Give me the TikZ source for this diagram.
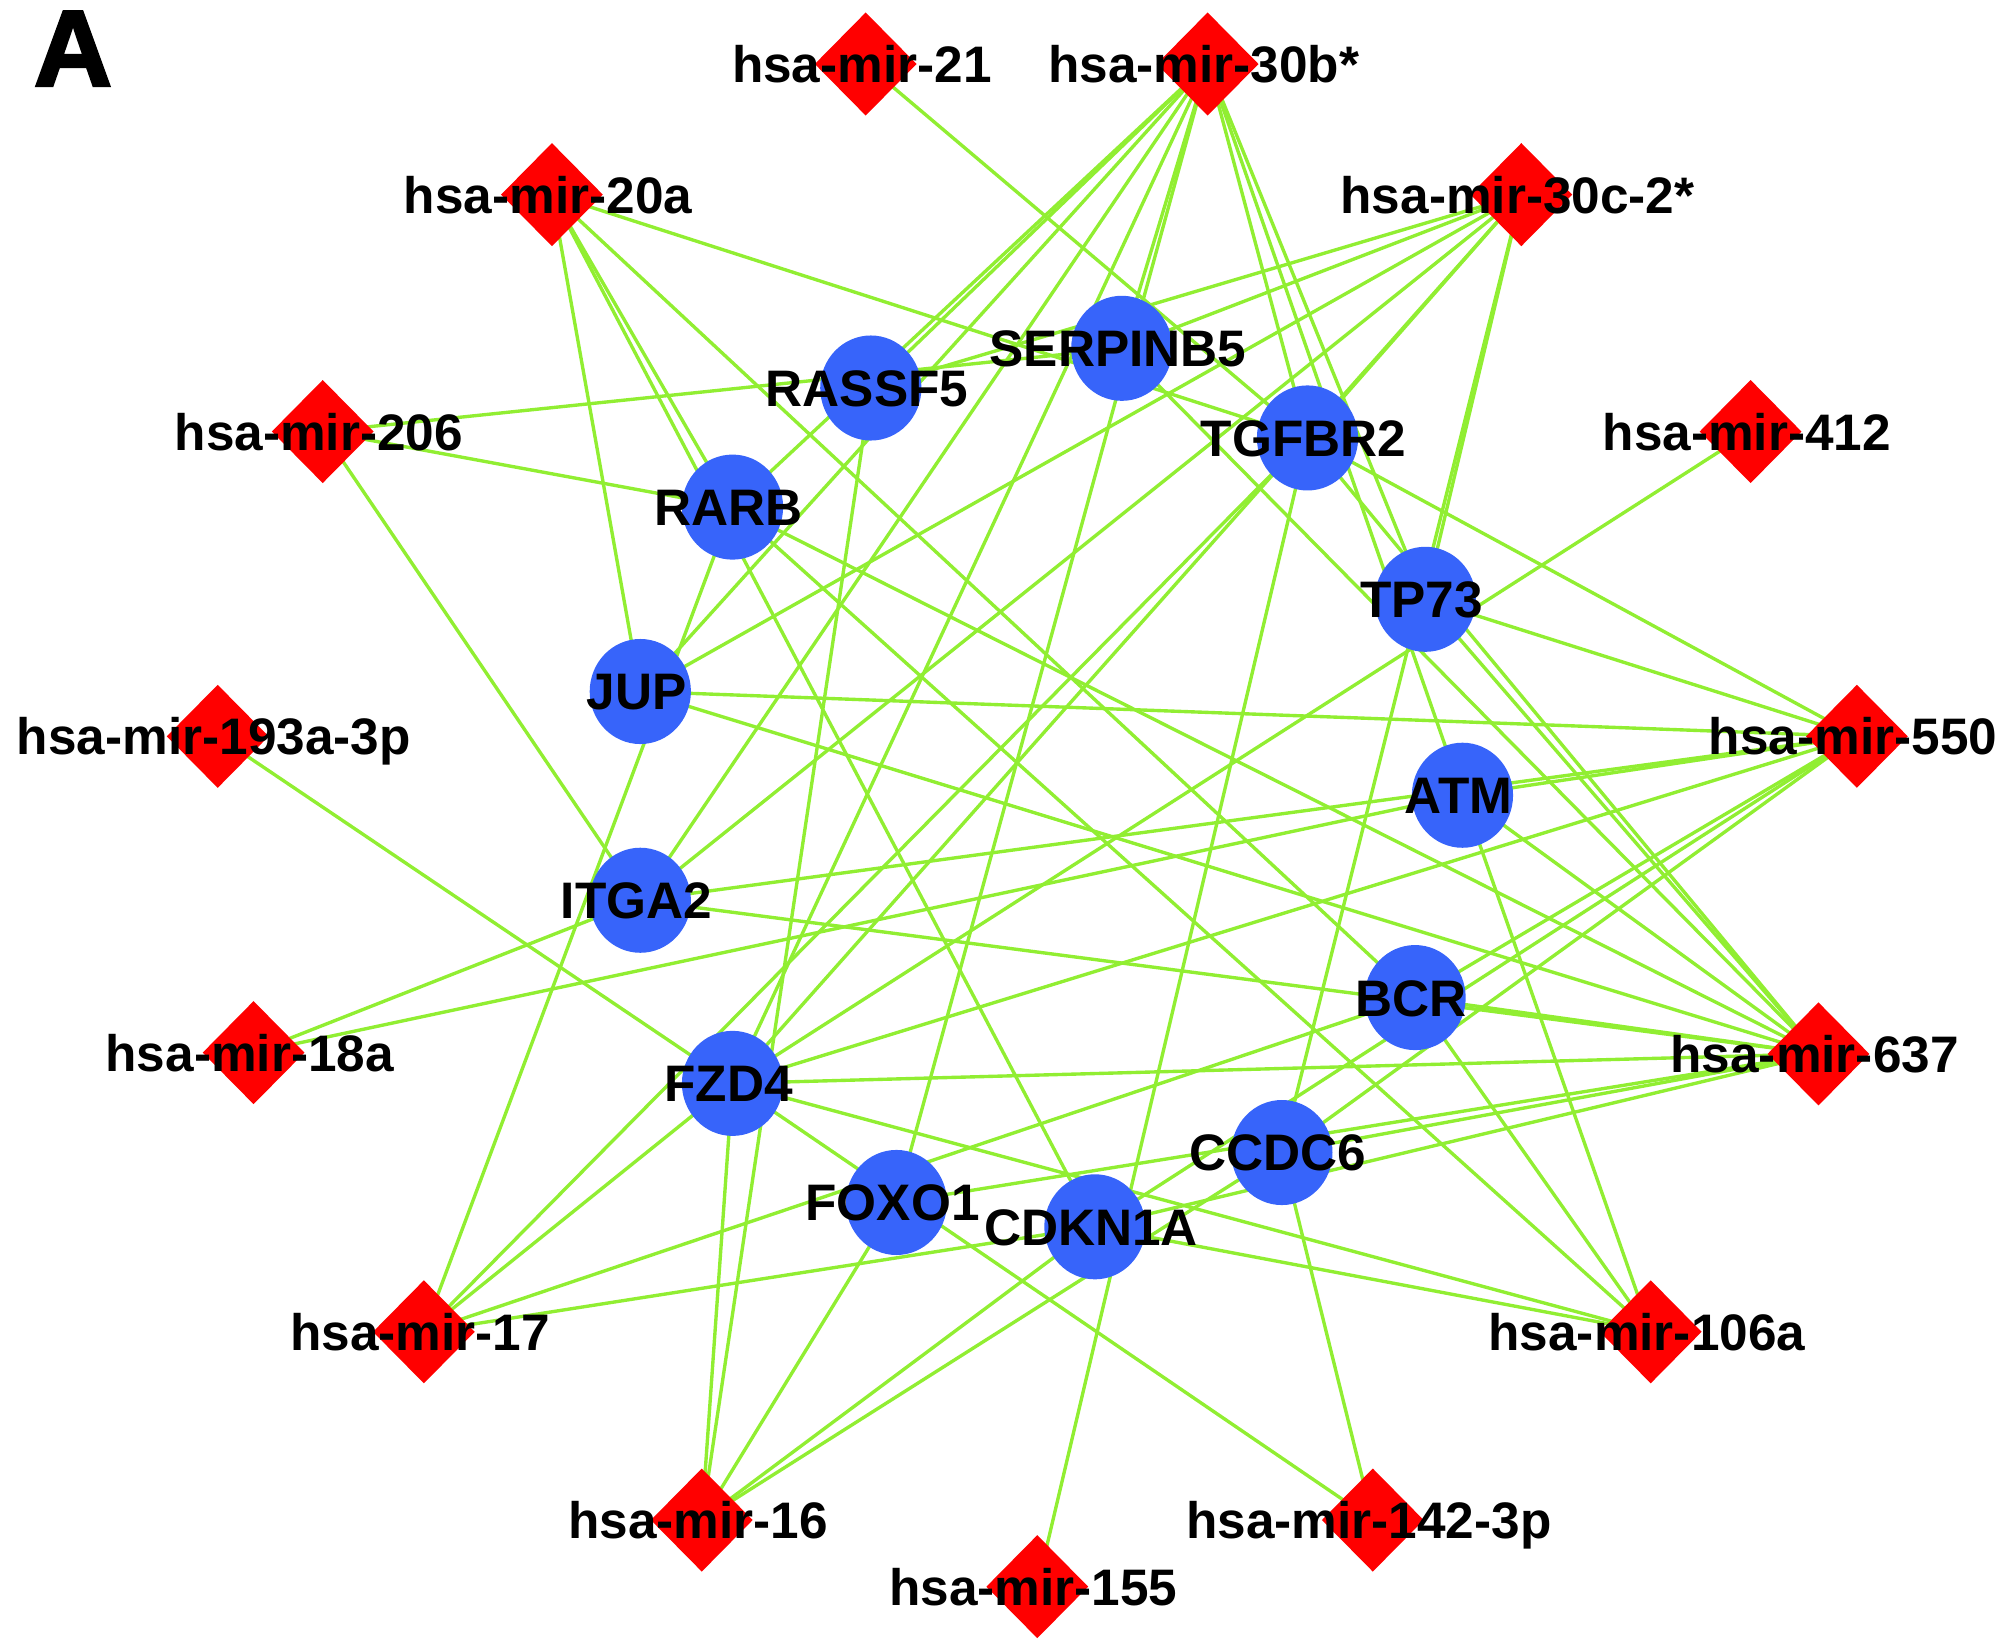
\documentclass[tikz,border=0pt]{standalone}
\usepackage{fontspec}
\setmainfont{Liberation Sans}
\newfontfamily\panelfont{Liberation Sans}[BoldFeatures={FakeBold=2.5}]
\usetikzlibrary{shapes.geometric}
\definecolor{geneblue}{RGB}{55,100,250}
\definecolor{mirred}{RGB}{255,0,0}
\definecolor{edgegreen}{RGB}{145,238,50}
\pgfdeclarelayer{edgelayer}
\pgfsetlayers{edgelayer,main}

\begin{document}
\begin{tikzpicture}[x=0.01cm, y=-0.01cm, font=\fontsize{11.4}{13}\selectfont\bfseries]
  \tikzstyle{gene}=[ellipse, fill=geneblue, minimum width=0.79cm, minimum height=0.82cm, inner sep=0pt]
  \tikzstyle{mirna}=[diamond, fill=mirred, minimum width=0.8cm, minimum height=0.81cm, inner sep=0pt]
  \tikzstyle{edge}=[draw=edgegreen, line width=0.75pt]
  \tikzstyle{lbl}=[inner sep=0pt, text height=8.2pt, text depth=0pt, xshift=-0.03cm]
  \useasboundingbox (0,0) rectangle (1568,1289);

  \node[font=\fontsize{24}{28}\panelfont\bfseries] (panel) at (57,38) {A};

  % genes
  \node[gene, label={[lbl]center:SERPINB5}] (serpinb) at (876,272) {};
  \node[gene, label={[lbl]center:RASSF5}] (rassf) at (680,303) {};
  \node[gene, label={[lbl]center:TGFBR2}] (tgfbr) at (1021,342) {};
  \node[gene, label={[lbl]center:RARB}] (rarb) at (572,396) {};
  \node[gene, label={[lbl]center:TP73}] (tp) at (1113,468) {};
  \node[gene, label={[lbl]center:JUP}] (jup) at (500,540) {};
  \node[gene, label={[lbl]center:ATM}] (atm) at (1142,621) {};
  \node[gene, label={[lbl]center:ITGA2}] (itga) at (500,703) {};
  \node[gene, label={[lbl]center:BCR}] (bcr) at (1105,779) {};
  \node[gene, label={[lbl]center:FZD4}] (fzd) at (572,846) {};
  \node[gene, label={[lbl]center:CCDC6}] (ccdc) at (1001,900) {};
  \node[gene, label={[lbl]center:FOXO1}] (foxo) at (700,939) {};
  \node[gene, label={[lbl]center:CDKN1A}] (cdkn) at (855,958) {};

  % miRNAs
  \node[mirna, label={[lbl]center:hsa-mir-21}] (m21) at (676,50) {};
  \node[mirna, label={[lbl]center:hsa-mir-30b*}] (m30b) at (943,50) {};
  \node[mirna, label={[lbl]center:hsa-mir-20a}] (m20a) at (431,152) {};
  \node[mirna, label={[lbl]center:hsa-mir-30c-2*}] (m30c) at (1188,152) {};
  \node[mirna, label={[lbl]center:hsa-mir-206}] (m206) at (252,337) {};
  \node[mirna, label={[lbl]center:hsa-mir-412}] (m412) at (1367,337) {};
  \node[mirna, label={[lbl]center:hsa-mir-193a-3p}] (m193) at (170,575) {};
  \node[mirna, label={[lbl]center:hsa-mir-550}] (m550) at (1450,575) {};
  \node[mirna, label={[lbl]center:hsa-mir-18a}] (m18a) at (198,822) {};
  \node[mirna, label={[lbl]center:hsa-mir-637}] (m637) at (1420,823) {};
  \node[mirna, label={[lbl]center:hsa-mir-17}] (m17) at (331,1040) {};
  \node[mirna, label={[lbl]center:hsa-mir-106a}] (m106a) at (1289,1040) {};
  \node[mirna, label={[lbl]center:hsa-mir-16}] (m16) at (548,1187) {};
  \node[mirna, label={[lbl]center:hsa-mir-142-3p}] (m142) at (1072,1187) {};
  \node[mirna, label={[lbl]center:hsa-mir-155}] (m155) at (810,1239) {};

  % interactions
  \begin{pgfonlayer}{edgelayer}
    \foreach \m/\g in {m21/tgfbr,
      m30b/rassf, m30b/rarb, m30b/jup, m30b/itga, m30b/fzd, m30b/serpinb, m30b/tgfbr, m30b/tp, m30b/atm, m30b/foxo,
      m30c/rassf, m30c/serpinb, m30c/jup, m30c/itga, m30c/tgfbr, m30c/fzd, m30c/tp, m30c/ccdc,
      m20a/tgfbr, m20a/jup, m20a/rarb, m20a/cdkn, m20a/bcr,
      m206/serpinb, m206/rarb, m206/itga,
      m412/fzd, m193/fzd, m18a/itga, m18a/atm,
      m17/rarb, m17/tgfbr, m17/fzd, m17/bcr, m17/cdkn,
      m16/fzd, m16/rassf, m16/foxo, m16/cdkn, m16/ccdc,
      m155/tgfbr, m142/ccdc, m142/fzd,
      m106a/atm, m106a/bcr, m106a/rarb, m106a/cdkn, m106a/fzd,
      m637/tp, m637/tgfbr, m637/serpinb, m637/atm, m637/bcr, m637/itga, m637/fzd, m637/ccdc, m637/foxo, m637/cdkn, m637/rarb, m637/jup,
      m550/tgfbr, m550/tp, m550/jup, m550/atm, m550/itga, m550/fzd, m550/ccdc, m550/cdkn, m550/bcr}
      \draw[edge] (\m.center) -- (\g.center);
  \end{pgfonlayer}
\end{tikzpicture}
\end{document}
